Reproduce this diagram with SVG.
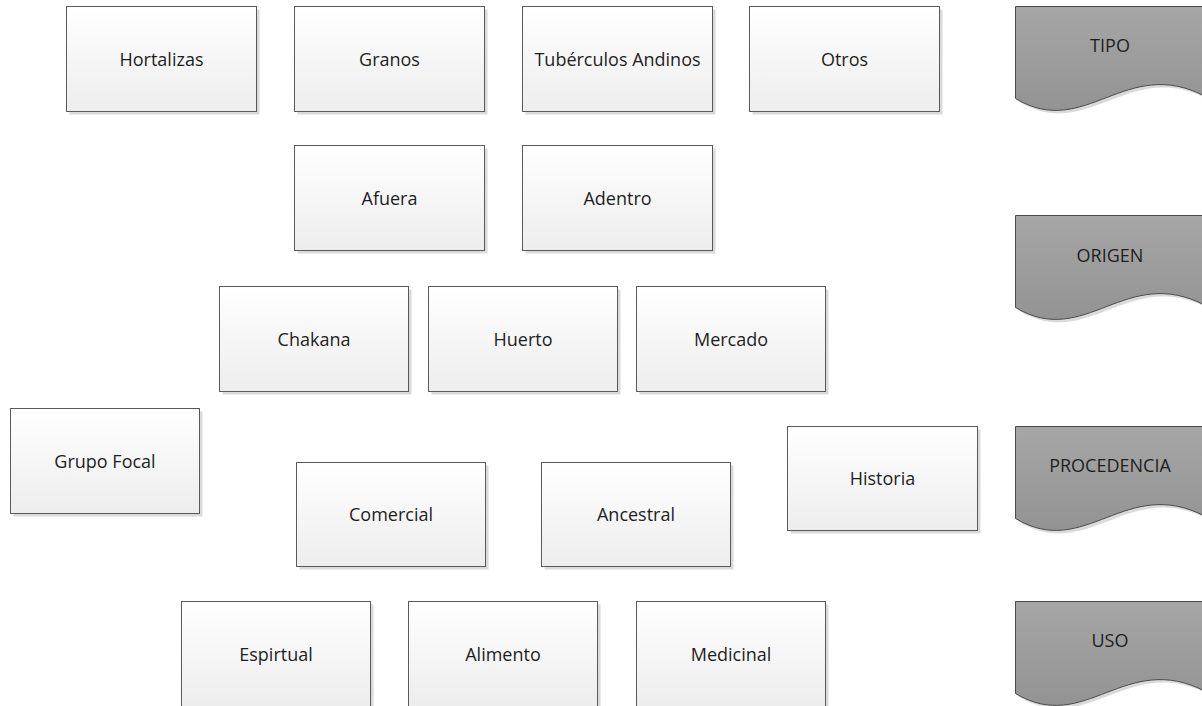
<svg xmlns="http://www.w3.org/2000/svg" width="1202" height="706" viewBox="0 0 1202 706">
  <defs>
    <linearGradient id="boxFill" x1="0" y1="0" x2="0" y2="1">
      <stop offset="0" stop-color="#ffffff"/>
      <stop offset="1" stop-color="#ededed"/>
    </linearGradient>
    <linearGradient id="docFill" x1="0" y1="0" x2="0" y2="1">
      <stop offset="0" stop-color="#a6a6a6"/>
      <stop offset="1" stop-color="#939393"/>
    </linearGradient>
    <!-- document shape with wavy bottom edge, local coords 190 wide -->
    <path id="docShape" d="M0 0 H190 V90 C110 48 70 134 0 92 Z"/>
  </defs>
  <style>
    .shadow { fill: #dadada; }
    .box { fill: url(#boxFill); stroke: #5a5a5a; stroke-width: 1; }
    .doc { fill: url(#docFill); stroke: #4a4a4a; stroke-width: 1; }
    .label { font-family: "Open Sans", "Noto Sans", sans-serif; font-size: 18px; fill: #1e1e1e; text-anchor: middle; dominant-baseline: central; }
  </style>

  <!-- rectangle nodes: shadow, body, label -->
  <g id="hortalizas">
    <rect class="shadow" x="69.5" y="9.5" width="190" height="105"/>
    <rect class="box" x="66.5" y="6.5" width="190" height="105"/>
    <text class="label" x="161.5" y="58.5">Hortalizas</text>
  </g>
  <g id="granos">
    <rect class="shadow" x="297.5" y="9.5" width="190" height="105"/>
    <rect class="box" x="294.5" y="6.5" width="190" height="105"/>
    <text class="label" x="389.5" y="58.5">Granos</text>
  </g>
  <g id="tuberculos-andinos">
    <rect class="shadow" x="525.5" y="9.5" width="190" height="105"/>
    <rect class="box" x="522.5" y="6.5" width="190" height="105"/>
    <text class="label" x="617.5" y="58.5">Tubérculos Andinos</text>
  </g>
  <g id="otros">
    <rect class="shadow" x="752.5" y="9.5" width="190" height="105"/>
    <rect class="box" x="749.5" y="6.5" width="190" height="105"/>
    <text class="label" x="844.5" y="58.5">Otros</text>
  </g>

  <g id="afuera">
    <rect class="shadow" x="297.5" y="148.5" width="190" height="105"/>
    <rect class="box" x="294.5" y="145.5" width="190" height="105"/>
    <text class="label" x="389.5" y="197.5">Afuera</text>
  </g>
  <g id="adentro">
    <rect class="shadow" x="525.5" y="148.5" width="190" height="105"/>
    <rect class="box" x="522.5" y="145.5" width="190" height="105"/>
    <text class="label" x="617.5" y="197.5">Adentro</text>
  </g>

  <g id="chakana">
    <rect class="shadow" x="222.5" y="289.5" width="189" height="105"/>
    <rect class="box" x="219.5" y="286.5" width="189" height="105"/>
    <text class="label" x="314" y="338.5">Chakana</text>
  </g>
  <g id="huerto">
    <rect class="shadow" x="431.5" y="289.5" width="189" height="105"/>
    <rect class="box" x="428.5" y="286.5" width="189" height="105"/>
    <text class="label" x="523" y="338.5">Huerto</text>
  </g>
  <g id="mercado">
    <rect class="shadow" x="639.5" y="289.5" width="189" height="105"/>
    <rect class="box" x="636.5" y="286.5" width="189" height="105"/>
    <text class="label" x="731" y="338.5">Mercado</text>
  </g>

  <g id="grupo-focal">
    <rect class="shadow" x="13.5" y="411.5" width="189" height="105"/>
    <rect class="box" x="10.5" y="408.5" width="189" height="105"/>
    <text class="label" x="105" y="460.5">Grupo Focal</text>
  </g>
  <g id="comercial">
    <rect class="shadow" x="299.5" y="465.5" width="189" height="104"/>
    <rect class="box" x="296.5" y="462.5" width="189" height="104"/>
    <text class="label" x="391" y="514">Comercial</text>
  </g>
  <g id="ancestral">
    <rect class="shadow" x="544.5" y="465.5" width="189" height="104"/>
    <rect class="box" x="541.5" y="462.5" width="189" height="104"/>
    <text class="label" x="636" y="514">Ancestral</text>
  </g>
  <g id="historia">
    <rect class="shadow" x="790.5" y="429.5" width="190" height="104"/>
    <rect class="box" x="787.5" y="426.5" width="190" height="104"/>
    <text class="label" x="882.5" y="478">Historia</text>
  </g>

  <g id="espirtual">
    <rect class="shadow" x="184.5" y="604.5" width="189" height="105"/>
    <rect class="box" x="181.5" y="601.5" width="189" height="105"/>
    <text class="label" x="276" y="653.5">Espirtual</text>
  </g>
  <g id="alimento">
    <rect class="shadow" x="411.5" y="604.5" width="189" height="105"/>
    <rect class="box" x="408.5" y="601.5" width="189" height="105"/>
    <text class="label" x="503" y="653.5">Alimento</text>
  </g>
  <g id="medicinal">
    <rect class="shadow" x="639.5" y="604.5" width="189" height="105"/>
    <rect class="box" x="636.5" y="601.5" width="189" height="105"/>
    <text class="label" x="731" y="653.5">Medicinal</text>
  </g>

  <!-- category documents along the right margin -->
  <g id="tipo">
    <use href="#docShape" class="shadow" transform="translate(1018.5 9.5)"/>
    <use href="#docShape" class="doc" transform="translate(1015.5 6.5)"/>
    <text class="label" x="1110" y="45">TIPO</text>
  </g>
  <g id="origen">
    <use href="#docShape" class="shadow" transform="translate(1018.5 218.5)"/>
    <use href="#docShape" class="doc" transform="translate(1015.5 215.5)"/>
    <text class="label" x="1110" y="255">ORIGEN</text>
  </g>
  <g id="procedencia">
    <use href="#docShape" class="shadow" transform="translate(1018.5 429.5)"/>
    <use href="#docShape" class="doc" transform="translate(1015.5 426.5)"/>
    <text class="label" x="1110" y="465">PROCEDENCIA</text>
  </g>
  <g id="uso">
    <use href="#docShape" class="shadow" transform="translate(1018.5 604.5)"/>
    <use href="#docShape" class="doc" transform="translate(1015.5 601.5)"/>
    <text class="label" x="1110" y="640">USO</text>
  </g>

  <g id="connectors"/>
</svg>
